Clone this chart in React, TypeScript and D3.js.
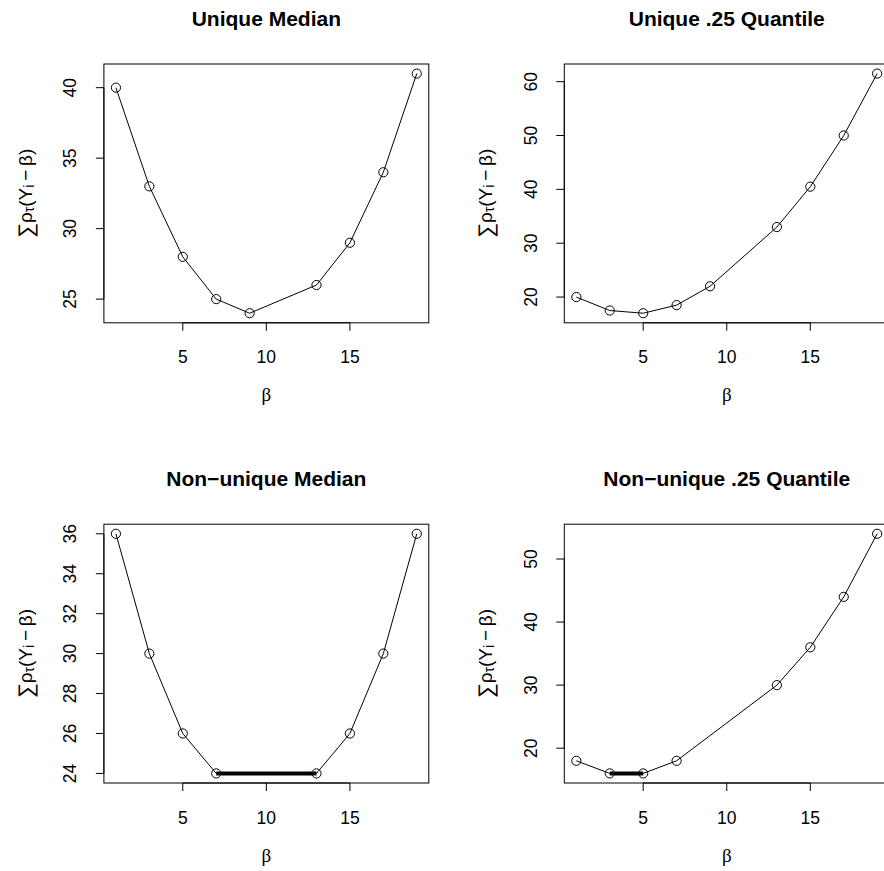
import React from "react";
import * as d3 from "d3";

const betaUnique = [1, 3, 5, 7, 9, 13, 15, 17, 19];
const uniqueMedian = [40, 33, 28, 25, 24, 26, 29, 34, 41];
const uniqueQ25 = [20, 17.5, 17, 18.5, 22, 33, 40.5, 50, 61.5];
const betaNonUnique = [1, 3, 5, 7, 13, 15, 17, 19];
const nonUniqueMedian = [36, 30, 26, 24, 24, 26, 30, 36];
const nonUniqueQ25 = [18, 16, 16, 18, 30, 36, 44, 54];

const titles = ["Unique Median", "Unique .25 Quantile", "Non\u2212unique Median", "Non\u2212unique .25 Quantile"];
const xTicks = [5, 10, 15];
const yTicksList = [
  [25, 30, 35, 40],
  [20, 30, 40, 50, 60],
  [24, 26, 28, 30, 32, 34, 36],
  [20, 30, 40, 50],
];
// flat (non-unique) minimum segments: [x0, x1, y]
const flatSegments: (number[] | null)[] = [null, null, [7, 13, 24], [3, 5, 16]];

const panelXs = [betaUnique, betaUnique, betaNonUnique, betaNonUnique];
const panelYs = [uniqueMedian, uniqueQ25, nonUniqueMedian, nonUniqueQ25];

const W = 884;
const H = 871;
const colLeft = [103.9, 564.3];
const boxW = 324.9;
const rowTop = [64, 524.2];
const boxH = 258.8;

const FONT = "'Liberation Sans', Arial, Helvetica, sans-serif";

function extend(vals: number[]): [number, number] {
  const [a, b] = d3.extent(vals) as [number, number];
  const p = (b - a) * 0.04;
  return [a - p, b + p];
}

function YLabel({ x, y }: { x: number; y: number }) {
  return (
    <text
      transform={`translate(${x},${y}) rotate(-90)`}
      textAnchor="middle"
      fontFamily={FONT}
      fontSize={19}
      dominantBaseline="central"
    >
      <tspan fontSize={21}>{"\u2211"}</tspan>
      <tspan>{"\u03C1"}</tspan>
      <tspan fontSize={14} dy={4}>{"\u03C4"}</tspan>
      <tspan dy={-4}>(Y</tspan>
      <tspan fontSize={14} dy={4}>i</tspan>
      <tspan dy={-4}>{"\u2009\u2212\u2009\u03B2)"}</tspan>
    </text>
  );
}

function Panel({ i }: { i: number }) {
  const col = i % 2;
  const row = Math.floor(i / 2);
  const left = colLeft[col];
  const top = rowTop[row];
  const right = left + boxW;
  const bottom = top + boxH;
  const xs = panelXs[i];
  const ys = panelYs[i];
  const x = d3.scaleLinear().domain(extend(xs)).range([left, right]);
  const y = d3.scaleLinear().domain(extend(ys)).range([bottom, top]);
  const line = d3
    .line<number>()
    .x((_, k) => x(xs[k]))
    .y((d) => y(d));
  const flat = flatSegments[i];
  const yTicks = yTicksList[i];
  const cx = (left + right) / 2;
  const cy = (top + bottom) / 2;
  return (
    <g>
      <text x={cx} y={top - 38} textAnchor="middle" fontFamily={FONT} fontWeight="bold" fontSize={21}>
        {titles[i]}
      </text>
      <rect x={left} y={top} width={boxW} height={boxH} fill="none" stroke="#000" strokeWidth={1} />
      {/* x axis */}
      <line x1={x(xTicks[0])} x2={x(xTicks[xTicks.length - 1])} y1={bottom} y2={bottom} stroke="#000" />
      {xTicks.map((t) => (
        <g key={"x" + t}>
          <line x1={x(t)} x2={x(t)} y1={bottom} y2={bottom + 8} stroke="#000" />
          <text x={x(t)} y={bottom + 40.5} textAnchor="middle" fontFamily={FONT} fontSize={17.5}>
            {t}
          </text>
        </g>
      ))}
      {/* y axis */}
      <line x1={left} x2={left} y1={y(yTicks[0])} y2={y(yTicks[yTicks.length - 1])} stroke="#000" />
      {yTicks.map((t) => (
        <g key={"y" + t}>
          <line x1={left - 8} x2={left} y1={y(t)} y2={y(t)} stroke="#000" />
          <text
            transform={`translate(${left - 27.5},${y(t)}) rotate(-90)`}
            textAnchor="middle"
            fontFamily={FONT}
            fontSize={17.5}
          >
            {t}
          </text>
        </g>
      ))}
      <text
        x={cx}
        y={bottom + 72}
        textAnchor="middle"
        dominantBaseline="central"
        fontFamily="'Liberation Serif', 'DejaVu Serif', serif"
        fontSize={19}
      >
        {"\u03B2"}
      </text>
      <YLabel x={left - 79} y={cy} />
      <path d={line(ys) || ""} fill="none" stroke="#000" strokeWidth={1} />
      {flat && (
        <line x1={x(flat[0])} x2={x(flat[1])} y1={y(flat[2])} y2={y(flat[2])} stroke="#000" strokeWidth={4} />
      )}
      {ys.map((v, k) => (
        <circle key={k} cx={x(xs[k])} cy={y(v)} r={4.6} fill="#fff" fillOpacity={0} stroke="#000" strokeWidth={1} />
      ))}
    </g>
  );
}

export default function App() {
  return (
    <svg
      width={W}
      height={H}
      style={{ position: "absolute", left: 0, top: 0, background: "#fff" }}
    >
      <rect width={W} height={H} fill="#fff" />
      {[0, 1, 2, 3].map((i) => (
        <Panel key={i} i={i} />
      ))}
    </svg>
  );
}
